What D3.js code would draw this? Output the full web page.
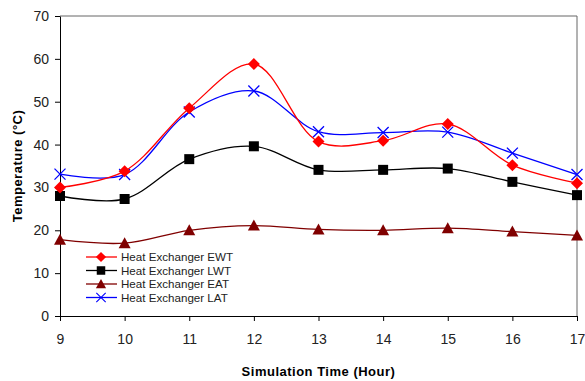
<!DOCTYPE html>
<html lang="en">
<head>
  <meta charset="UTF-8">
  <title>Heat Exchanger Temperatures</title>
  <style>
    body {
      margin: 0;
      font-family: "Liberation Sans", Arial, sans-serif;
      background: #fff;
    }
    .axis text {
      font-size: 14px;
      fill: #222;
    }
    .axis path, .axis line {
      stroke: #000;
    }
    .title {
      font-size: 13px;
      font-weight: bold;
      letter-spacing: 0.5px;
    }
    .legend text {
      font-size: 11.6px;
      fill: #222;
    }
  </style>
  <script src="https://d3js.org/d3.v7.min.js"></script>
</head>
<body>
  <div id="chart"></div>
  <script>
/* global d3 */

var hours = [9, 10, 11, 12, 13, 14, 15, 16, 17];
var yTicks = [0, 10, 20, 30, 40, 50, 60, 70];

var ewt = [30, 33.8, 48.5, 58.8, 40.7, 40.9, 44.8, 35.2, 31];
var lwt = [28, 27.3, 36.6, 39.6, 34.1, 34.1, 34.4, 31.3, 28.2];
var eat = [17.8, 17, 20, 21.1, 20.2, 20, 20.5, 19.7, 18.8];
var lat = [33.1, 33, 47.6, 52.5, 43, 42.8, 42.9, 38, 33];

var seriesNames = ["Heat Exchanger EWT", "Heat Exchanger LWT", "Heat Exchanger EAT", "Heat Exchanger LAT"];

var series = [
  {name: seriesNames[0], values: ewt, color: "#ff0000", marker: "diamond"},
  {name: seriesNames[1], values: lwt, color: "#000000", marker: "square"},
  {name: seriesNames[2], values: eat, color: "#800000", marker: "triangle"},
  {name: seriesNames[3], values: lat, color: "#0000ff", marker: "cross"}
];

var width = 585, height = 381,
  margin = {top: 16, right: 8, bottom: 65, left: 60},
  w = width - margin.left - margin.right,
  h = height - margin.top - margin.bottom;

var svg = d3.select("#chart")
  .append("svg")
  .attr("width", width)
  .attr("height", height);

var g = svg.append("g")
  .attr("transform", "translate(" + margin.left + "," + margin.top + ")");

var x = d3.scaleLinear().domain([9, 17]).range([0, w]);
var y = d3.scaleLinear().domain([0, 70]).range([h, 0]);

// frame: top and right
g.append("line")
  .attr("x1", 0).attr("x2", w).attr("y1", 0).attr("y2", 0)
  .attr("stroke", "#666");
g.append("line")
  .attr("x1", w).attr("x2", w).attr("y1", 0).attr("y2", h)
  .attr("stroke", "#666");

g.append("g")
  .attr("class", "axis")
  .attr("transform", "translate(0," + h + ")")
  .call(d3.axisBottom(x).tickValues(hours).tickFormat(d3.format("d"))
    .tickSizeOuter(0).tickSizeInner(5).tickPadding(13));

g.append("g")
  .attr("class", "axis")
  .call(d3.axisLeft(y).tickValues(yTicks).tickSizeOuter(0).tickSizeInner(5).tickPadding(6));

var line = d3.line()
  .x(function (d, i) { return x(hours[i]); })
  .y(function (d) { return y(d); })
  .curve(d3.curveCatmullRom.alpha(0.5));

function drawMarker(sel, type, color) {
  if (type === "diamond") {
    sel.append("path").attr("d", "M0,-6L6,0L0,6L-6,0Z").attr("fill", color);
  } else if (type === "square") {
    sel.append("rect").attr("x", -5).attr("y", -5).attr("width", 10).attr("height", 10).attr("fill", color);
  } else if (type === "triangle") {
    sel.append("path").attr("d", "M0,-6L6,5L-6,5Z").attr("fill", color);
  } else {
    sel.append("path").attr("d", "M-5.5,-5.5L5.5,5.5M-5.5,5.5L5.5,-5.5")
      .attr("stroke", color).attr("stroke-width", 1.3).attr("fill", "none");
  }
}

// draw in reverse so red sits on top
series.slice().reverse().forEach(function (s) {
  g.append("path")
    .datum(s.values)
    .attr("fill", "none")
    .attr("stroke", s.color)
    .attr("stroke-width", 1.3)
    .attr("d", line);

  g.selectAll(null)
    .data(s.values)
    .enter()
    .append("g")
    .attr("transform", function (d, i) { return "translate(" + x(hours[i]) + "," + y(d) + ")"; })
    .each(function () { drawMarker(d3.select(this), s.marker, s.color); });
});

// legend
var legend = g.append("g")
  .attr("class", "legend")
  .attr("transform", "translate(24,234)");

legend.append("rect")
  .attr("x", 0).attr("y", 0)
  .attr("width", 170).attr("height", 56)
  .attr("fill", "#fff");

series.forEach(function (s, i) {
  var row = legend.append("g")
    .attr("transform", "translate(0," + (7 + i * 13.5) + ")");
  row.append("line")
    .attr("x1", 2).attr("x2", 33).attr("y1", 0).attr("y2", 0)
    .attr("stroke", s.color).attr("stroke-width", 1.3);
  var m = row.append("g").attr("transform", "translate(17,0) scale(0.85)");
  drawMarker(m, s.marker, s.color);
  row.append("text")
    .attr("x", 37)
    .attr("y", 0)
    .attr("dy", "0.35em")
    .text(s.name);
});

// axis titles
svg.append("text")
  .attr("class", "title")
  .attr("x", margin.left + w / 2 - 0)
  .attr("y", 376)
  .attr("text-anchor", "middle")
  .text("Simulation Time (Hour)");

svg.append("text")
  .attr("class", "title")
  .attr("transform", "translate(22," + (margin.top + h / 2) + ") rotate(-90)")
  .attr("text-anchor", "middle")
  .text("Temperature (°C)");
  </script>
</body>
</html>
